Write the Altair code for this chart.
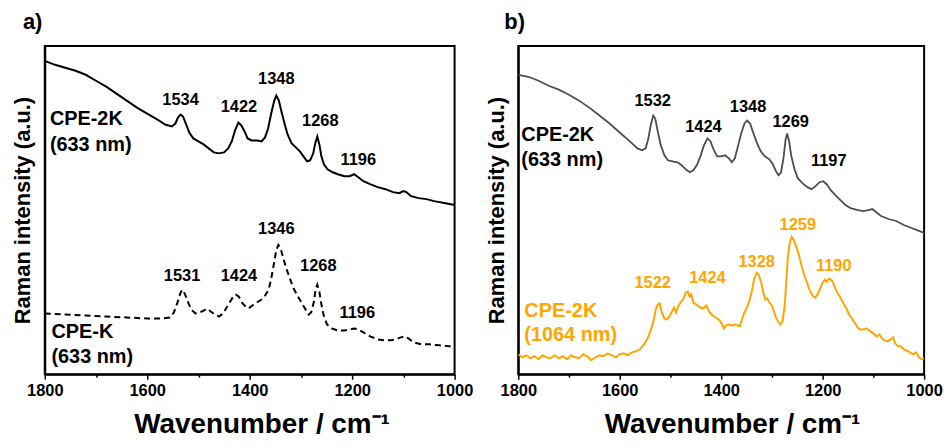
import altair as alt
import pandas as pd

FONT = "Liberation Sans"

# ---------------- Panel a: CPE-2K (633 nm), solid ----------------
a_2k_wn = [1800, 1780, 1760, 1740, 1720, 1700, 1680, 1660, 1640, 1620, 1600, 1580, 1565, 1552, 1545,
           1540, 1535, 1530, 1524, 1518, 1510, 1500, 1490, 1480, 1470, 1460, 1450, 1442, 1435, 1428,
           1422, 1416, 1410, 1404, 1396, 1385, 1377, 1370, 1364, 1358, 1352, 1348, 1343, 1338, 1332,
           1326, 1318, 1310, 1302, 1295, 1288, 1282, 1276, 1272, 1268, 1264, 1260, 1255, 1248, 1238,
           1228, 1215, 1205, 1196, 1188, 1178, 1165, 1150, 1135, 1120, 1108, 1100, 1094, 1085, 1070,
           1055, 1040, 1020, 1000]
a_2k_int = [315, 311, 308, 305, 301, 295, 289, 282, 275, 268, 262, 256, 251, 249, 252,
            258, 261, 259, 251, 243, 237, 234, 231, 227, 223, 222, 223, 227, 234, 246,
            253, 250, 244, 237, 235, 235, 234, 238, 247, 262, 275, 280, 275, 264, 252,
            241, 232, 228, 224, 219, 214, 215, 222, 232, 239, 231, 219, 211, 206, 203,
            201, 199, 199, 201, 198, 194, 191, 188, 186, 183, 182, 184, 183, 179, 177,
            176, 174, 172, 170]

# ---------------- Panel a: CPE-K (633 nm), dashed ----------------
a_k_wn = [1800, 1760, 1720, 1680, 1640, 1600, 1570, 1556, 1548, 1541, 1535, 1531, 1526, 1520, 1514,
          1506, 1498, 1490, 1483, 1476, 1468, 1460, 1452, 1445, 1438, 1432, 1427, 1421, 1415, 1408,
          1402, 1395, 1386, 1377, 1370, 1363, 1358, 1353, 1348, 1344, 1340, 1335, 1329, 1322, 1316,
          1308, 1300, 1292, 1285, 1280, 1275, 1271, 1268, 1264, 1260, 1255, 1249, 1240, 1228, 1215,
          1205, 1196, 1188, 1178, 1165, 1150, 1136, 1125, 1115, 1105, 1097, 1090, 1080, 1065, 1050,
          1030, 1010, 1000]
a_k_int = [61, 60, 59, 58, 57, 56, 56, 57, 62, 72, 82, 85, 80, 72, 65,
           61, 62, 64, 66, 63, 60, 58, 61, 67, 73, 78, 80, 78, 72, 68,
           66, 69, 72, 75, 79, 85, 96, 110, 125, 130, 127, 118, 107, 97, 88,
           80, 73, 66, 60, 62, 72, 86, 90, 83, 70, 58, 50, 46, 44, 44,
           45, 46, 45, 42, 38, 35, 34, 34, 35, 37, 38, 36, 32, 30, 30,
           29, 28, 27]

# ---------------- Panel b: CPE-2K (633 nm), grey ----------------
b_633_wn = [1800, 1780, 1760, 1740, 1720, 1700, 1680, 1660, 1640, 1620, 1600, 1580, 1565, 1556, 1549,
            1544, 1539, 1534, 1530, 1525, 1519, 1512, 1505, 1496, 1486, 1478, 1470, 1462, 1455, 1448,
            1441, 1434, 1427, 1421, 1415, 1408, 1400, 1392, 1385, 1379, 1373, 1367, 1360, 1354, 1349,
            1343, 1337, 1330, 1322, 1314, 1305, 1298, 1292, 1287, 1282, 1277, 1273, 1270, 1266, 1262,
            1256, 1249, 1240, 1230, 1222, 1214, 1206, 1199, 1192, 1184, 1175, 1165, 1155, 1145, 1130,
            1120, 1110, 1102, 1095, 1085, 1070, 1055, 1040, 1025, 1010, 1000]
b_633_int = [301, 299, 295, 290, 286, 281, 275, 268, 260, 252, 243, 234, 227, 225, 227,
             236, 250, 260, 257, 244, 230, 220, 215, 214, 213, 210, 206, 203, 205, 210,
             219, 230, 237, 234, 226, 219, 219, 220, 217, 213, 217, 229, 243, 252, 255,
             252, 243, 233, 224, 219, 216, 211, 204, 200, 203, 218, 236, 242, 234, 220,
             207, 197, 192, 188, 186, 189, 193, 194, 191, 185, 180, 175, 170, 167, 165,
             164, 165, 166, 163, 159, 156, 154, 150, 147, 144, 142]

# ---------------- Panel b: CPE-2K (1064 nm), orange ----------------
b_1064_wn = [1800, 1792, 1784, 1776, 1768, 1760, 1752, 1744, 1736, 1728, 1720, 1712, 1704, 1696, 1688,
             1680, 1672, 1664, 1656, 1648, 1640, 1632, 1624, 1616, 1608, 1600, 1592, 1584, 1576, 1568,
             1560, 1552, 1545, 1539, 1534, 1529, 1525, 1521, 1517, 1512, 1507, 1502, 1497, 1493, 1489,
             1485, 1480, 1475, 1470, 1466, 1462, 1459, 1455, 1449, 1444, 1438, 1433, 1429, 1424, 1419,
             1414, 1408, 1403, 1398, 1395, 1390, 1385, 1378, 1372, 1367, 1363, 1359, 1355, 1350, 1345,
             1340, 1335, 1330, 1326, 1321, 1317, 1313, 1309, 1305, 1300, 1296, 1292, 1287, 1283, 1279,
             1275, 1272, 1269, 1265, 1261, 1257, 1252, 1247, 1242, 1237, 1231, 1226, 1220, 1215, 1210,
             1205, 1200, 1196, 1192, 1188, 1184, 1180, 1175, 1169, 1163, 1158, 1153, 1148, 1142, 1136,
             1130, 1124, 1118, 1113, 1108, 1103, 1098, 1093, 1088, 1083, 1078, 1072, 1066, 1061, 1057,
             1052, 1046, 1040, 1035, 1028, 1022, 1016, 1010, 1005, 1000]
b_1064_int = [20, 17, 19, 16, 18, 15, 19, 17, 16, 19, 16, 18, 15, 19, 17,
              16, 20, 18, 14, 17, 19, 18, 21, 19, 17, 20, 21, 19, 22, 23,
              25, 30, 36, 44, 52, 65, 70, 71, 62, 56, 55, 58, 63, 67, 62,
              68, 72, 75, 82, 83, 78, 80, 72, 70, 68, 66, 67, 69, 63, 60,
              58, 56, 54, 50, 46, 49, 50, 49, 50, 49, 48, 55, 61, 66, 73,
              82, 96, 102, 100, 92, 82, 75, 76, 72, 69, 63, 57, 52, 50, 53,
              68, 90, 115, 132, 138, 135, 128, 120, 110, 101, 92, 85, 79, 77, 80,
              86, 92, 95, 93, 96, 95, 93, 86, 80, 75, 70, 66, 60, 56, 51,
              46, 45, 45, 46, 44, 42, 40, 38, 40, 36, 34, 33, 35, 37, 31,
              28, 28, 25, 24, 22, 20, 22, 17, 15, 16]

# ---------------- Peak labels ----------------
a_peak_text = ["1534", "1422", "1348", "1268", "1196", "1531", "1424", "1346", "1268", "1196"]
a_peak_wn = [1535, 1421, 1348, 1262, 1188, 1532, 1421, 1348, 1266, 1190]
a_peak_val = [276, 269, 297, 254, 215, 99, 99, 146, 109, 61]

b_peak_text = ["1532", "1424", "1348", "1269", "1197", "1522", "1424", "1328", "1259", "1190"]
b_peak_wn = [1535, 1435, 1347, 1263, 1188, 1535, 1427, 1330, 1249, 1178]
b_peak_val = [275, 248, 269, 253, 214, 92, 97, 113, 150, 109]
b_peak_color = ["black"] * 5 + ["orange"] * 5

# ---------------- Sample labels ----------------
a_name_text = ["CPE-2K", "(633 nm)", "CPE-K", "(633 nm)"]
a_name_wn = [1790, 1790, 1787, 1787]
a_name_val = [257, 230, 42, 17]

b_name_text = ["CPE-2K", "(633 nm)", "CPE-2K", "(1064 nm)"]
b_name_wn = [1794, 1794, 1788, 1788]
b_name_val = [240, 215, 63, 39]
b_name_color = ["black", "black", "orange", "orange"]

ORANGE = "#FFA500"
GREY = "#4D4D4D"
COLOR_MAP = {"black": "black", "orange": ORANGE}


def x_enc(title_x):
    return alt.X(
        "wn:Q",
        scale=alt.Scale(domain=[1800, 1000], nice=False, zero=False),
        axis=alt.Axis(
            title="Wavenumber / cm⁻¹",
            values=list(range(1000, 1801, 100)),
            format="d",
            labelExpr="datum.value % 200 === 0 ? datum.label : ''",
            labelFont=FONT, labelFontSize=16.5, labelFontWeight="bold", labelColor="black",
            labelPadding=3, labelFlush=False, labelOverlap=False,
            tickColor="black", tickWidth=1.5,
            tickSize={"condition": {"test": "datum.value % 200 === 0", "value": 5}, "value": 3},
            domainColor="black", domainWidth=2,
            titleFont=FONT, titleFontSize=28, titleFontWeight="bold", titleColor="black",
            titlePadding=12, titleX=title_x, grid=False,
        ),
    )


def y_enc():
    return alt.Y(
        "val:Q",
        scale=alt.Scale(domain=[0, 330], nice=False, zero=False),
        axis=alt.Axis(
            title="Raman intensity (a.u.)", labels=False, ticks=False,
            domainColor="black", domainWidth=2, grid=False,
            titleFont=FONT, titleFontSize=22, titleFontWeight="bold", titleColor="black",
            titlePadding=10,
        ),
    )


def peak_layer(texts, wn, val, colors):
    df = pd.DataFrame({"wn": wn, "val": val, "t": texts, "c": colors})
    return alt.Chart(df).mark_text(
        font=FONT, fontSize=16.5, fontWeight="bold", align="center", baseline="middle"
    ).encode(x="wn:Q", y="val:Q", text="t:N", color=alt.Color("c:N", scale=None))


def name_layer(texts, wn, val, colors):
    df = pd.DataFrame({"wn": wn, "val": val, "t": texts, "c": colors})
    return alt.Chart(df).mark_text(
        font=FONT, fontSize=20, fontWeight="bold", align="left", baseline="middle"
    ).encode(x="wn:Q", y="val:Q", text="t:N", color=alt.Color("c:N", scale=None))


# Panel a
a_lines_2k = alt.Chart(pd.DataFrame({"wn": a_2k_wn, "val": a_2k_int})).mark_line(
    color="black", strokeWidth=2.0, clip=True).encode(x=x_enc(218), y=y_enc())
a_lines_k = alt.Chart(pd.DataFrame({"wn": a_k_wn, "val": a_k_int})).mark_line(
    color="black", strokeWidth=2.0, strokeDash=[6, 4], clip=True).encode(x="wn:Q", y="val:Q")
panel_a = alt.layer(
    a_lines_2k, a_lines_k,
    peak_layer(a_peak_text, a_peak_wn, a_peak_val, ["black"] * len(a_peak_text)),
    name_layer(a_name_text, a_name_wn, a_name_val, ["black"] * len(a_name_text)),
).properties(
    width=412, height=330,
    title=alt.TitleParams("a)", anchor="start", frame="group", dx=-22, offset=12,
                          font=FONT, fontSize=22, fontWeight="bold", color="black"),
)

# Panel b
b_lines_633 = alt.Chart(pd.DataFrame({"wn": b_633_wn, "val": b_633_int})).mark_line(
    color=GREY, strokeWidth=1.8, clip=True).encode(x=x_enc(215), y=y_enc())
b_lines_1064 = alt.Chart(pd.DataFrame({"wn": b_1064_wn, "val": b_1064_int})).mark_line(
    color=ORANGE, strokeWidth=2.0, clip=True).encode(x="wn:Q", y="val:Q")
panel_b = alt.layer(
    b_lines_633, b_lines_1064,
    peak_layer(b_peak_text, b_peak_wn, b_peak_val, [COLOR_MAP[c] for c in b_peak_color]),
    name_layer(b_name_text, b_name_wn, b_name_val, [COLOR_MAP[c] for c in b_name_color]),
).properties(
    width=408, height=330,
    title=alt.TitleParams("b)", anchor="start", frame="group", dx=-14, offset=12,
                          font=FONT, fontSize=22, fontWeight="bold", color="black"),
)

chart = alt.hconcat(panel_a, panel_b, spacing=10).configure(
    padding={"left": 11, "top": 9, "right": 0, "bottom": 0},
    background="white",
).configure_view(stroke="black", strokeWidth=2)

chart.save("out.html", embed_options={"renderer": "svg", "actions": False})
